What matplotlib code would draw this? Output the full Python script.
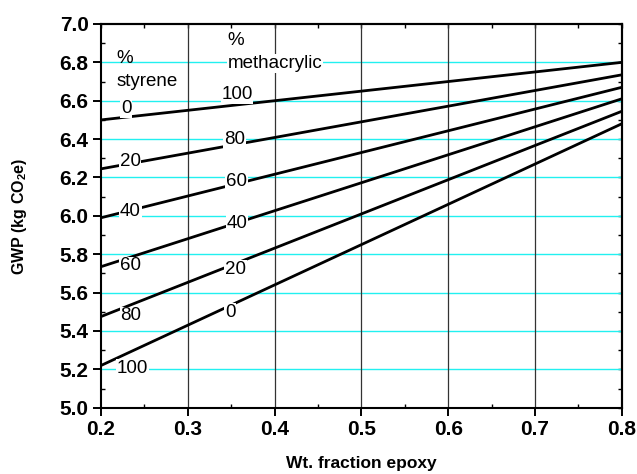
"""
plot.py
GWP of epoxy / vinyl ester blends versus epoxy weight fraction,
one line per styrene / methacrylic split.
"""

import matplotlib
matplotlib.use("Agg")
import matplotlib.pyplot as plt
from matplotlib.ticker import MultipleLocator

plt.rcParams["font.family"] = ["Liberation Sans", "DejaVu Sans"]
plt.rcParams["mathtext.fontset"] = "custom"
plt.rcParams["mathtext.rm"] = "Liberation Sans"
plt.rcParams["mathtext.bf"] = "Liberation Sans:bold"

# Each line runs from 0.2 to 0.8 wt. fraction epoxy
epoxy_frac = [0.2, 0.8]
styrene_pct = [0, 20, 40, 60, 80, 100]
methacrylic_pct = [100, 80, 60, 40, 20, 0]
gwp_start = [6.50, 6.245, 5.99, 5.735, 5.475, 5.22]
gwp_end = [6.80, 6.735, 6.67, 6.61, 6.545, 6.48]

# Where the inline labels sit (x, y)
styrene_label_pos = [(0.229, 6.56), (0.2335, 6.283), (0.234, 6.022),
                     (0.2335, 5.739), (0.2345, 5.478), (0.236, 5.205)]
methacrylic_label_pos = [(0.3566, 6.630), (0.354, 6.399), (0.3558, 6.178),
                         (0.357, 5.958), (0.355, 5.722), (0.349, 5.495)]


def main():
    fig = plt.figure(figsize=(6.37, 4.74), dpi=100)
    ax = fig.add_axes([0.1586, 0.1399, 0.8176, 0.8095])

    ax.set_xlim(0.2, 0.8)
    ax.set_ylim(5.0, 7.0)

    # Grid: cyan horizontals, dark verticals
    for y in [5.2, 5.4, 5.6, 5.8, 6.0, 6.2, 6.4, 6.6, 6.8]:
        ax.axhline(y, color="#22f0f0", lw=1.0, zorder=1)
    for x in [0.3, 0.4, 0.5, 0.6, 0.7]:
        ax.axvline(x, color="#333333", lw=0.9, zorder=1)

    for y0, y1 in zip(gwp_start, gwp_end):
        ax.plot(epoxy_frac, [y0, y1], color="black", lw=2.0,
                solid_capstyle="butt", zorder=2)

    box = dict(facecolor="white", edgecolor="none", pad=0.5)
    for pct, (x, y) in zip(styrene_pct, styrene_label_pos):
        ax.text(x, y, str(pct), fontsize=13.5, ha="center", va="center",
                bbox=box, zorder=3)
    for pct, (x, y) in zip(methacrylic_pct, methacrylic_label_pos):
        ax.text(x, y, str(pct), fontsize=13.5, ha="center", va="center",
                bbox=box, zorder=3)

    # Column headers
    ax.text(0.2173, 6.82, "%", fontsize=13.5, ha="left", va="center",
            zorder=3)
    ax.text(0.2173, 6.70, "styrene", fontsize=13.5, ha="left", va="center",
            zorder=3)
    ax.text(0.346, 6.913, "%", fontsize=13.5, ha="left", va="center",
            zorder=3)
    ax.text(0.346, 6.795, "methacrylic", fontsize=13.5, ha="left",
            va="center", bbox=box, zorder=3)

    # Ticks: majors outward on left/bottom, minors inward
    ax.xaxis.set_major_locator(MultipleLocator(0.1))
    ax.xaxis.set_minor_locator(MultipleLocator(0.05))
    ax.yaxis.set_major_locator(MultipleLocator(0.2))
    ax.yaxis.set_minor_locator(MultipleLocator(0.1))
    ax.tick_params(which="major", direction="out", length=6, width=1.4,
                   labelsize=15, pad=3)
    ax.tick_params(which="minor", direction="in", length=3, width=1.0)
    for lab in ax.get_xticklabels() + ax.get_yticklabels():
        lab.set_fontweight("bold")
    ax.xaxis.set_major_formatter(plt.FuncFormatter(lambda v, p: f"{v:.1f}"))
    ax.yaxis.set_major_formatter(plt.FuncFormatter(lambda v, p: f"{v:.1f}"))

    top = ax.secondary_xaxis("top")
    top.xaxis.set_major_locator(MultipleLocator(0.1))
    top.xaxis.set_minor_locator(MultipleLocator(0.05))
    top.tick_params(which="both", direction="in", length=3, width=1.0,
                    labeltop=False)
    right = ax.secondary_yaxis("right")
    right.yaxis.set_major_locator(MultipleLocator(0.1))
    right.tick_params(which="both", direction="in", length=3, width=1.0,
                      labelright=False)

    for spine in ax.spines.values():
        spine.set_linewidth(1.5)
    top.spines["top"].set_linewidth(1.5)
    right.spines["right"].set_linewidth(1.5)

    ax.set_xlabel("Wt. fraction epoxy", fontsize=12.5, fontweight="bold",
                  labelpad=12)
    ax.set_ylabel(r"GWP (kg CO$_\mathbf{2}$e)", fontsize=11.5,
                  fontweight="bold", labelpad=22)

    fig.savefig("out.png", dpi=100)
    plt.close(fig)


if __name__ == "__main__":
    main()
